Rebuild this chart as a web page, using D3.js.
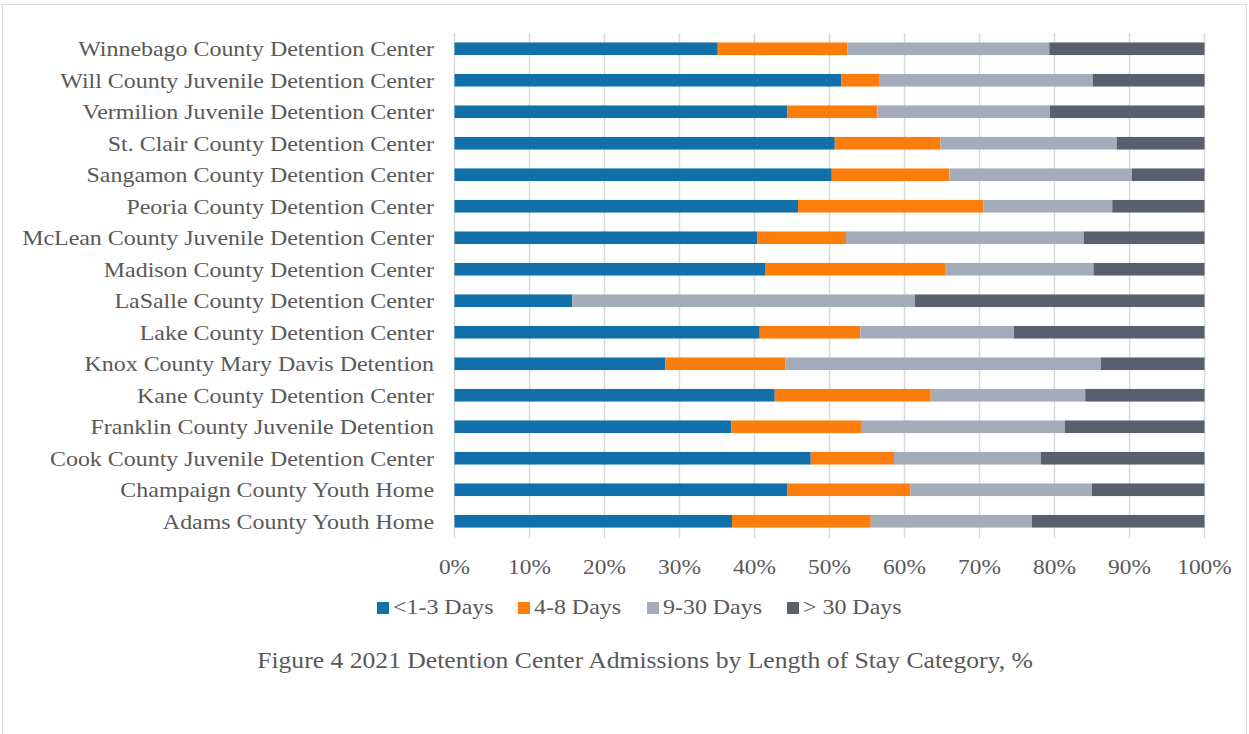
<!DOCTYPE html>
<html><head><meta charset="utf-8">
<script src="https://cdn.jsdelivr.net/npm/d3@7"></script>
<style>body{margin:0;background:#fff}svg{display:block}text{font-family:"Liberation Serif","Times New Roman",serif;fill:#595959}</style>
</head><body><svg id="c" width="1249" height="734"></svg>
<script>
const categories = ["Winnebago County Detention Center","Will County Juvenile Detention Center","Vermilion Juvenile Detention Center","St. Clair County Detention Center","Sangamon County Detention Center","Peoria County Detention Center","McLean County Juvenile Detention Center","Madison County Detention Center","LaSalle County Detention Center","Lake County Detention Center","Knox County Mary Davis Detention","Kane County Detention Center","Franklin County Juvenile Detention","Cook County Juvenile Detention Center","Champaign County Youth Home","Adams County Youth Home"];
const seriesNames = ["<1-3 Days","4-8 Days","9-30 Days","> 30 Days"];
const days1to3 = [35.1,51.6,44.4,50.7,50.3,45.8,40.4,41.4,15.7,40.7,28.1,42.7,36.9,47.5,44.4,37.0];
const days4to8 = [17.3,5.0,12.0,14.1,15.7,24.7,11.8,24.0,0,13.4,16.0,20.8,17.3,11.1,16.4,18.5];
const days9to30 = [26.9,28.5,23.0,23.5,24.3,17.2,31.7,19.8,45.7,20.5,42.1,20.6,27.2,19.6,24.2,21.5];
const daysOver30 = [20.7,14.9,20.6,11.7,9.7,12.3,16.1,14.8,38.6,25.4,13.8,15.9,18.6,21.8,15.0,23.0];
const tickValues = [0,10,20,30,40,50,60,70,80,90,100];
const colors = ["#1170aa","#fc7d0b","#a3acb9","#57606c"];
const caption = "Figure 4 2021 Detention Center Admissions by Length of Stay Category, %";
const SX = 1.14;

const svg = d3.select("#c");
svg.append("rect").attr("x",2.5).attr("y",4.5).attr("width",1244).attr("height",740).attr("fill","none").attr("stroke","#d9d9d9");

const x = d3.scaleLinear().domain([0,100]).range([454.5,1204.5]);
const y = d3.scaleBand().domain(categories).range([33,537]).paddingInner(0.6).paddingOuter(0.3);

const rows = categories.map((c,i)=>({cat:c, "<1-3 Days":days1to3[i], "4-8 Days":days4to8[i], "9-30 Days":days9to30[i], "> 30 Days":daysOver30[i]}));
const stack = d3.stack().keys(seriesNames).offset(d3.stackOffsetExpand)(rows);

svg.append("g").selectAll("line").data(tickValues).join("line")
  .attr("x1",d=>x(d)).attr("x2",d=>x(d)).attr("y1",33).attr("y2",538)
  .attr("stroke","#d9d9d9").attr("stroke-width",1.5);

svg.append("g").selectAll("g").data(stack).join("g").attr("fill",(d,i)=>colors[i])
  .selectAll("rect").data(d=>d).join("rect")
  .attr("x",d=>x(d[0]*100)).attr("width",d=>x(d[1]*100)-x(d[0]*100))
  .attr("y",d=>y(d.data.cat)).attr("height",y.bandwidth());

svg.append("g").selectAll("text").data(categories).join("text")
  .attr("transform",d=>`translate(434,${y(d)+y.bandwidth()/2}) scale(${SX},1)`).attr("dy","0.35em")
  .attr("text-anchor","end").attr("font-size",21).text(d=>d);

svg.append("g").selectAll("text").data(tickValues).join("text")
  .attr("transform",d=>`translate(${x(d)},567) scale(${SX},1)`).attr("dy","0.35em").attr("text-anchor","middle")
  .attr("font-size",20.5).text(d=>d+"%");

const lx = [377,518,647,787];
const lg = svg.append("g").selectAll("g").data(seriesNames).join("g")
  .attr("transform",(d,i)=>`translate(${lx[i]},608)`);
lg.append("rect").attr("x",0).attr("y",-6).attr("width",12).attr("height",12).attr("fill",(d,i)=>colors[i]);
lg.append("text").attr("transform",`translate(16,0) scale(${SX},1)`).attr("dy","0.3em").attr("font-size",21).text(d=>d);

svg.append("text").attr("transform",`translate(645,660) scale(${SX},1)`).attr("dy","0.35em").attr("text-anchor","middle")
  .attr("font-size",22.5).text(caption);
</script></body></html>
